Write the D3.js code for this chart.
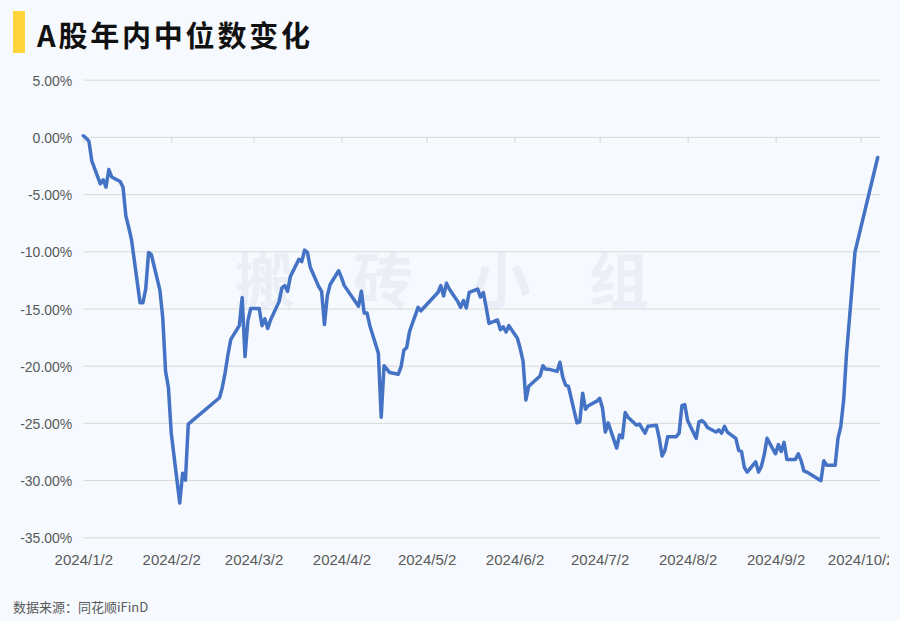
<!DOCTYPE html>
<meta charset="utf-8">
<style>
body { margin: 0; background: #f6f9fd; }
svg { display: block; font-family: "Liberation Sans", Arial, sans-serif; }
.grid line { stroke: #d9d9d9; stroke-width: 1px; }
.grid path { display: none; }
.axis--y text { fill: #595959; font-size: 14px; }
.axis--x text { fill: #595959; font-size: 15px; }
.axis--zero line, .axis--zero path { stroke: #d4d4d4; }
.line { fill: none; stroke: #4472c4; stroke-width: 3.5px; stroke-linejoin: round; stroke-linecap: round; }
</style>
<svg width="900" height="621"></svg>
<script src="https://cdn.jsdelivr.net/npm/d3@7"></script>
<script>

// trading days (2024) and median change since start of year, in percent
var dates = [
  "1/2","1/3","1/4","1/5","1/8","1/9","1/10","1/11","1/12","1/15","1/16","1/17","1/18","1/19",
  "1/22","1/23","1/24","1/25","1/26","1/29","1/30","1/31","2/1","2/2","2/5","2/6","2/7","2/8",
  "2/19","2/20","2/21","2/22","2/23","2/26","2/27","2/28","2/29","3/1","3/4","3/5","3/6","3/7","3/8",
  "3/11","3/12","3/13","3/14","3/15","3/18","3/19","3/20","3/21","3/22","3/25","3/26","3/27","3/28","3/29",
  "4/1","4/2","4/3","4/8","4/9","4/10","4/11","4/12","4/15","4/16","4/17","4/18","4/19",
  "4/22","4/23","4/24","4/25","4/26","4/29","4/30","5/6","5/7","5/8","5/9","5/10",
  "5/13","5/14","5/15","5/16","5/17","5/20","5/21","5/22","5/23","5/24","5/27","5/28","5/29","5/30","5/31",
  "6/3","6/4","6/5","6/6","6/7","6/11","6/12","6/13","6/14","6/17","6/18","6/19","6/20","6/21",
  "6/24","6/25","6/26","6/27","6/28","7/1","7/2","7/3","7/4","7/5","7/8","7/9","7/10","7/11","7/12",
  "7/15","7/16","7/17","7/18","7/19","7/22","7/23","7/24","7/25","7/26","7/29","7/30","7/31","8/1","8/2",
  "8/5","8/6","8/7","8/8","8/9","8/12","8/13","8/14","8/15","8/16","8/19","8/20","8/21","8/22","8/23",
  "8/26","8/27","8/28","8/29","8/30","9/2","9/3","9/4","9/5","9/6","9/9","9/10","9/11","9/12","9/13",
  "9/18","9/19","9/20","9/23","9/24","9/25","9/26","9/27","9/30","10/8"
];
var values = [
  0.1,-0.1,-0.4,-2.1,-4.1,-3.75,-4.4,-2.85,-3.5,-3.9,-4.4,-6.9,-7.9,-9.0,
  -14.5,-14.5,-13.3,-10.1,-10.3,-13.4,-15.8,-20.5,-21.9,-25.9,-32.0,-29.4,-30.0,-25.1,
  -22.8,-21.9,-20.6,-19.0,-17.7,-16.5,-14.05,-19.2,-16.1,-15.0,-15.0,-16.5,-15.9,-16.75,-16.0,
  -14.4,-13.2,-13.0,-13.5,-12.2,-10.7,-10.9,-9.9,-10.1,-11.4,-13.1,-13.5,-16.4,-13.9,-12.9,
  -11.7,-12.3,-13.0,-14.8,-13.5,-15.4,-15.4,-16.5,-18.9,-24.5,-20.0,-20.3,-20.6,
  -20.75,-20.1,-18.65,-18.4,-17.0,-14.9,-15.2,-13.6,-13.0,-13.9,-12.8,-13.3,
  -14.4,-14.9,-14.3,-14.95,-13.6,-13.3,-14.0,-13.6,-14.9,-16.3,-16.0,-16.85,-16.6,-17.05,-16.5,
  -17.6,-18.5,-19.6,-23.0,-21.8,-20.9,-20.0,-20.3,-20.3,-20.5,-19.7,-21.0,-21.7,-21.8,
  -25.0,-24.9,-22.4,-23.8,-23.5,-23.1,-22.85,-23.7,-25.8,-25.0,-27.2,-26.05,-26.3,-24.1,-24.5,
  -25.2,-25.1,-25.5,-25.9,-25.3,-25.2,-26.35,-27.9,-27.4,-26.2,-26.2,-25.9,-23.5,-23.4,-24.8,
  -26.35,-24.9,-24.8,-25.0,-25.4,-25.8,-25.6,-25.9,-25.3,-25.8,-26.35,-27.4,-27.5,-28.9,-29.3,
  -28.4,-29.3,-28.8,-27.8,-26.35,-27.7,-26.9,-27.5,-26.7,-28.2,-28.2,-27.7,-28.3,-29.2,-29.3,
  -30.05,-28.3,-28.7,-28.7,-26.35,-25.3,-23.0,-19.0,-10.05,-1.8
];
var xTicks = ["1/2","2/2","3/2","4/2","5/2","6/2","7/2","8/2","9/2","10/2"];
var yTicks = [5, 0, -5, -10, -15, -20, -25, -30, -35];

var title = "A股年内中位数变化",
    source = "数据来源：同花顺iFinD",
    watermark = ["搬", "砖", "小", "组"];

var parseDay = function(s) { return d3.timeParse("%Y/%m/%d")("2024/" + s); };
var data = dates.map(function(s, i) { return {date: parseDay(s), value: values[i]}; });

var svg = d3.select("svg");
var plotLeft = 83.3, plotRight = 877.7, gridRight = 880, plotTop = 79.7, plotBottom = 537.3;

var x = d3.scaleTime().domain(d3.extent(data, function(d) { return d.date; })).range([plotLeft, plotRight]);
var y = d3.scaleLinear().domain([-35, 5]).range([plotBottom, plotTop]);

// the last date label is cut by the chart edge
svg.append("defs").append("clipPath").attr("id", "clip")
  .append("rect").attr("x", 0).attr("y", 0).attr("width", 889).attr("height", 621);

// title block
svg.append("rect").attr("x", 13).attr("y", 11).attr("width", 12).attr("height", 42).attr("fill", "#fdd43a");
svg.append("text").attr("x", 37).attr("y", 47)
  .style("font-family", "'Noto Sans CJK SC', sans-serif")
  .style("font-size", "29px").style("font-weight", 700).style("letter-spacing", "2.8px")
  .attr("fill", "#111").text(title);

// watermark
svg.append("g").selectAll("text").data(watermark).enter().append("text")
  .attr("x", function(d, i) { return 265 + i * 118; })
  .attr("y", 303)
  .attr("text-anchor", "middle")
  .style("font-family", "'Noto Sans CJK SC', sans-serif")
  .style("font-size", "60px").style("font-weight", 700)
  .attr("fill", "#e9eef7")
  .text(function(d) { return d; });

// horizontal grid
svg.append("g").attr("class", "grid")
  .attr("transform", "translate(" + plotLeft + ",0)")
  .call(d3.axisRight(y).tickValues(yTicks).tickSize(gridRight - plotLeft).tickFormat(""));

// y labels
svg.append("g").attr("class", "axis axis--y")
  .attr("transform", "translate(" + (plotLeft - 11) + ",0)")
  .call(d3.axisLeft(y).tickValues(yTicks).tickSize(0).tickFormat(function(d) { return d.toFixed(2) + "%"; }))
  .call(function(g) { g.select(".domain").remove(); })
  .selectAll("text").attr("dy", "0.4em").attr("x", 0);

// tick marks sit on the zero line
svg.append("g").attr("class", "axis axis--zero")
  .attr("transform", "translate(0," + y(0) + ")")
  .call(d3.axisBottom(x).tickValues(xTicks.map(parseDay)).tickSizeInner(6).tickSizeOuter(0).tickFormat(""))
  .call(function(g) { g.select(".domain").remove(); });

// date labels at the bottom
svg.append("g").attr("class", "axis axis--x")
  .attr("clip-path", "url(#clip)")
  .attr("transform", "translate(0," + plotBottom + ")")
  .call(d3.axisBottom(x).tickValues(xTicks.map(parseDay)).tickSize(0).tickFormat(d3.timeFormat("%Y/%-m/%-d")))
  .call(function(g) { g.select(".domain").remove(); })
  .selectAll("text").attr("y", 17).attr("dy", "0.71em");

var line = d3.line()
  .x(function(d) { return x(d.date); })
  .y(function(d) { return y(d.value); });

svg.append("path").datum(data).attr("class", "line").attr("d", line);

svg.append("text").attr("x", 13).attr("y", 612)
  .style("font-family", "'Noto Sans CJK SC', sans-serif")
  .style("font-size", "13px").attr("fill", "#595959").text(source);

</script>
